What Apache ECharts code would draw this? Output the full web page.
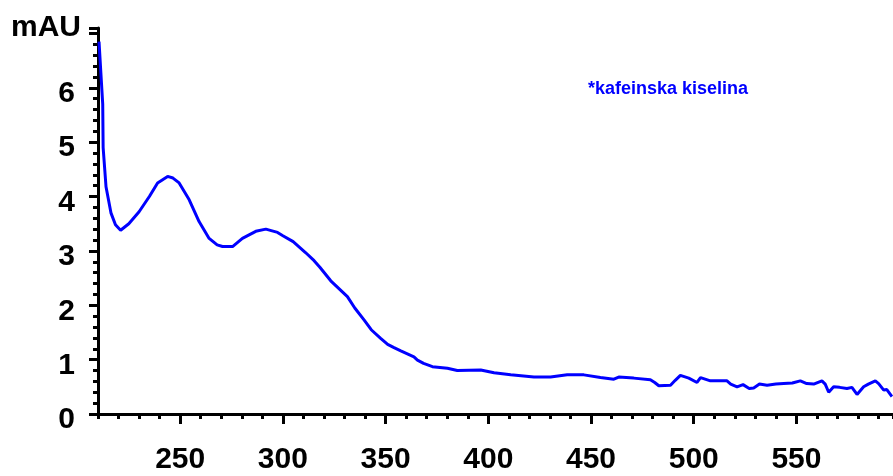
<!DOCTYPE html>
<html>
<head>
<meta charset="utf-8">
<script src="https://cdn.jsdelivr.net/npm/echarts@6/dist/echarts.min.js"></script>
<style>
  html, body { margin: 0; padding: 0; background: #fff; }
  #main { width: 893px; height: 476px; }
</style>
</head>
<body>
<div id="main"></div>
<script>
// wavelength (nm) and absorbance (mAU)
const wavelength = [
  210.5, 211.4, 212.3, 212.5, 213.9, 216.3, 218.5, 221, 225, 230,
  235, 239, 243.9, 246.5, 249.5, 254.4, 259.2, 264.1, 268, 270.6,
  275.5, 280.3, 286.8, 291.7, 297.4, 300, 305, 311, 315.2, 318,
  323.3, 331.4, 335, 339.5, 343, 347.6, 351, 354.1, 357.4, 363.8,
  365.5, 368.5, 372.8, 380.1, 384.9, 396.3, 402.8, 410.9, 422.2, 430.3,
  438.4, 446.5, 454.6, 461.1, 463.5, 470.8, 478.9, 481, 483, 488.7,
  491, 493.5, 497.6, 501.6, 503.3, 508.1, 516.2, 518, 521.1, 524,
  527, 529.2, 532, 535.7, 540, 543.8, 548, 551.9, 555, 558.4,
  562.4, 564, 565.7, 568.1, 571, 574.6, 577, 579.5, 582.7, 585,
  588.4, 590, 592.5, 594, 596.5
];
const absorbance = [
  6.85, 6.27, 5.7, 4.9, 4.18, 3.7, 3.48, 3.38, 3.5, 3.72,
  4.0, 4.25, 4.37, 4.34, 4.25, 3.94, 3.54, 3.23, 3.11, 3.08,
  3.08, 3.23, 3.36, 3.40, 3.34, 3.28, 3.17, 2.97, 2.82, 2.70,
  2.45, 2.16, 1.95, 1.73, 1.55, 1.39, 1.28, 1.22, 1.16, 1.05,
  0.99, 0.93, 0.87, 0.84, 0.80, 0.81, 0.76, 0.72, 0.68, 0.68,
  0.72, 0.72, 0.67, 0.64, 0.68, 0.66, 0.63, 0.58, 0.52, 0.53,
  0.62, 0.71, 0.66, 0.58, 0.67, 0.61, 0.61, 0.55, 0.50, 0.54,
  0.47, 0.48, 0.55, 0.53, 0.55, 0.56, 0.57, 0.61, 0.56, 0.55,
  0.61, 0.55, 0.40, 0.50, 0.49, 0.47, 0.49, 0.36, 0.50, 0.55,
  0.61, 0.56, 0.44, 0.45, 0.32
];
const xTickLabels = [250, 300, 350, 400, 450, 500, 550];
const yTickLabels = [0, 1, 2, 3, 4, 5, 6];
const seriesName = '*kafeinska kiselina';
const yUnit = 'mAU';

const chartDom = document.getElementById('main');
const myChart = echarts.init(chartDom);

const labelFont = {
  color: '#000',
  fontFamily: 'Liberation Sans, Arial, sans-serif',
  fontWeight: 'bold',
  fontSize: 30
};

const option = {
  animation: false,
  title: {
    text: yUnit,
    left: 11,
    top: 13,
    padding: 0,
    textStyle: labelFont
  },
  legend: {
    data: [seriesName],
    left: 578,
    top: 75,
    icon: 'none',
    itemWidth: 0,
    itemHeight: 0,
    textStyle: {
      color: '#0000ff',
      fontFamily: 'Liberation Sans, Arial, sans-serif',
      fontWeight: 'bold',
      fontSize: 18
    }
  },
  grid: {
    left: 98,
    right: 0,
    top: 28,
    bottom: 62,
    containLabel: false
  },
  xAxis: [
    {
      type: 'value',
      min: 210,
      max: 597,
      position: 'bottom',
      axisLine: { lineStyle: { color: '#000', width: 3 } },
      axisTick: {
        customValues: xTickLabels,
        length: 10,
        lineStyle: { color: '#000', width: 3 }
      },
      axisLabel: Object.assign({
        customValues: xTickLabels,
        margin: 31
      }, labelFont),
      splitLine: { show: false }
    },
    {
      type: 'value',
      min: 210,
      max: 597,
      interval: 10,
      position: 'bottom',
      axisLine: { show: false },
      axisTick: {
        length: 5,
        lineStyle: { color: '#000', width: 3 }
      },
      axisLabel: { show: false },
      splitLine: { show: false }
    }
  ],
  yAxis: {
    type: 'value',
    min: 0,
    max: 7.1,
    interval: 1,
    axisLine: { show: true, lineStyle: { color: '#000', width: 3 } },
    axisTick: {
      show: true,
      length: 9,
      lineStyle: { color: '#000', width: 3 }
    },
    minorTick: {
      show: true,
      splitNumber: 5,
      length: 5,
      lineStyle: { color: '#000', width: 3 }
    },
    axisLabel: {
      margin: 23,
      // labels sit a few px below their ticks in the original
      formatter: (v) => (yTickLabels.indexOf(v) >= 0 ? '{v|' + v + '}' : ''),
      rich: {
        v: Object.assign({ padding: [12, 0, 0, 0] }, labelFont)
      }
    },
    splitLine: { show: false }
  },
  series: [
    {
      name: seriesName,
      type: 'line',
      xAxisIndex: 0,
      showSymbol: false,
      smooth: false,
      lineStyle: { color: '#0000ff', width: 3 },
      itemStyle: { color: '#0000ff' },
      data: wavelength.map((w, i) => [w, absorbance[i]])
    }
  ]
};

myChart.setOption(option);
</script>
</body>
</html>
